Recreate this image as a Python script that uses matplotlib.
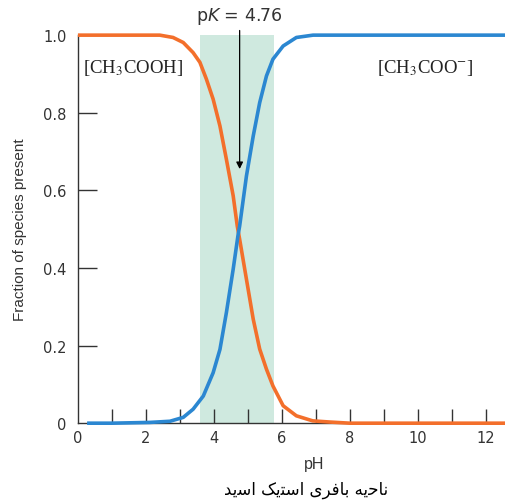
import numpy as np
import matplotlib
matplotlib.use("Agg")
from matplotlib import pyplot as plt

# values
pK = 4.76
buffer_lo, buffer_hi = 3.6, 5.76

ph_acid = [0.0, 1.0, 1.82, 2.41, 2.8, 3.1, 3.39, 3.59, 3.78, 3.98, 4.18, 4.37,
           4.57, 4.69, 4.76, 4.96, 5.16, 5.35, 5.55, 5.74, 6.04, 6.43, 6.91,
           7.41, 8.0, 10.0, 12.6]
frac_acid = [1.0, 1.0, 1.0, 1.0, 0.994, 0.981, 0.955, 0.93, 0.887, 0.835, 0.766, 0.68,
             0.586, 0.508, 0.474, 0.371, 0.268, 0.191, 0.139, 0.096, 0.045, 0.019, 0.006,
             0.003, 0.0, 0.0, 0.0]

ph_base = [0.27, 1.0, 2.12, 2.71, 3.1, 3.39, 3.69, 3.98, 4.18, 4.37, 4.57, 4.71,
           4.76, 4.96, 5.16, 5.35, 5.55, 5.74, 6.04, 6.43, 6.92, 7.6, 10.0, 12.6]
frac_base = [0.0, 0.0, 0.002, 0.005, 0.015, 0.036, 0.07, 0.13, 0.19, 0.285, 0.397, 0.483,
             0.508, 0.637, 0.74, 0.826, 0.895, 0.938, 0.972, 0.994, 1.0, 1.0, 1.0, 1.0]

x_labels = [0, 2, 4, 6, 8, 10, 12]
y_ticks = [0, 0.2, 0.4, 0.6, 0.8, 1.0]
y_labels = ["0", "0.2", "0.4", "0.6", "0.8", "1.0"]

# Persian caption "ناحیه بافری استیک اسید", written in presentation forms
# in visual order since matplotlib does no Arabic shaping
caption = ("\uFEAA\uFBFE\uFEB3\uFE8D \uFB8F\uFBFE\uFE98\uFEB3\uFE8D "
           "\uFBFC\uFEAE\uFED3\uFE8E\uFE91 \uFEEA\uFBFE\uFEA3\uFE8E\uFEE7")

grey = "#333333"
orange = "#f36f2b"
blue = "#2b87d1"

fig = plt.figure(figsize=(5.06, 5.02), dpi=100)
ax = fig.add_axes([0.154, 0.155, 0.846, 0.773])

ax.axvspan(buffer_lo, buffer_hi, ymin=0, ymax=1, color="#cfe9df", lw=0, zorder=0)
ax.plot(ph_acid, frac_acid, color=orange, lw=2.6, clip_on=False, zorder=3,
        solid_capstyle="butt", solid_joinstyle="round")
ax.plot(ph_base, frac_base, color=blue, lw=2.6, clip_on=False, zorder=3,
        solid_capstyle="butt", solid_joinstyle="round")

ax.set_xlim(0, 12.6)
ax.set_ylim(0, 1.0)

for s in ["top", "right"]:
    ax.spines[s].set_visible(False)
for s in ["left", "bottom"]:
    ax.spines[s].set_color(grey)
    ax.spines[s].set_linewidth(1.0)

ax.set_xticks(np.arange(0, 13, 1))
ax.set_xticklabels([str(v) if v in x_labels else "" for v in range(13)])
ax.tick_params(axis="x", direction="in", length=10, width=1, color=grey,
               pad=5, labelsize=10.5, labelcolor=grey)
ax.xaxis.get_major_ticks()[0].tick1line.set_visible(False)

ax.set_yticks(y_ticks)
ax.set_yticklabels(y_labels)
ax.tick_params(axis="y", direction="in", length=14, width=1, color=grey,
               pad=8, labelsize=10.5, labelcolor=grey)
yt = ax.yaxis.get_major_ticks()
yt[0].tick1line.set_visible(False)
yt[-1].tick1line.set_visible(False)

ax.set_xlabel("pH", fontsize=11.5, color=grey, family="Liberation Sans")
ax.xaxis.set_label_coords(0.551, -0.085)
ax.set_ylabel("Fraction of species present", fontsize=11, color=grey,
              family="Liberation Sans", labelpad=12)

ax.text(0.15, 0.918, r"[CH$_3$COOH]", fontsize=13.5, family="Liberation Serif",
        math_fontfamily="stix", color="#222222", ha="left", va="center")
ax.text(8.79, 0.918, r"[CH$_3$COO$^{-}$]", fontsize=13.5, family="Liberation Serif",
        math_fontfamily="stix", color="#222222", ha="left", va="center")

ax.annotate("", xy=(pK, 0.655), xytext=(pK, 1.012), xycoords="data",
            arrowprops=dict(arrowstyle="-|>", color="black", lw=0.9,
                            mutation_scale=10, shrinkA=0, shrinkB=0),
            annotation_clip=False, zorder=4)
ax.text(pK, 1.05, r"p$K$ = 4.76", fontsize=12.5, color=grey, ha="center",
        va="center", math_fontfamily="dejavusans")

fig.text(0.605, 0.024, caption, fontsize=12, family="DejaVu Sans",
         color="black", ha="center", va="center")

fig.savefig("out.png", dpi=100)
